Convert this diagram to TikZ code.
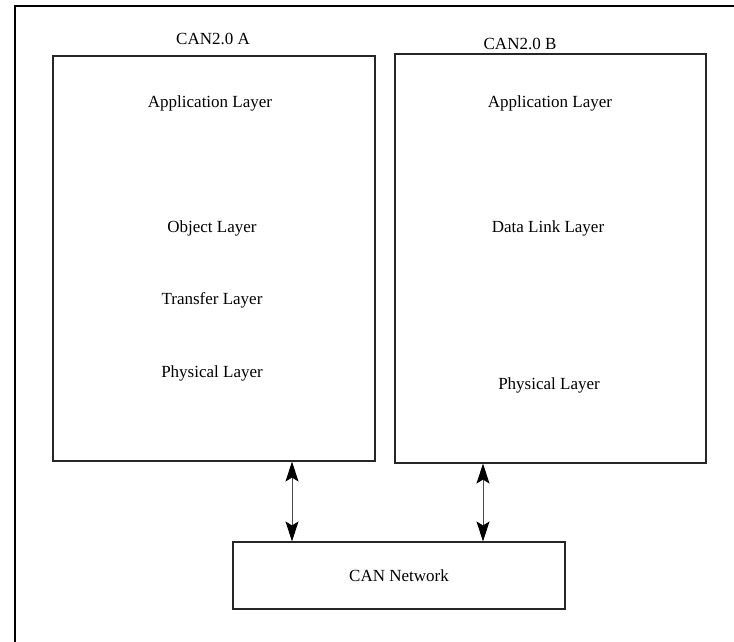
\documentclass[tikz,border=0pt]{standalone}
\usepackage{fontspec}
\setmainfont{Liberation Serif}
\usetikzlibrary{arrows.meta}

\begin{document}
\begin{tikzpicture}[
        x=1pt, y=-1pt,
        font=\fontsize{17}{20}\selectfont,
        stack/.style={draw=black!85, line width=1.1pt, inner sep=0pt},
        link/.style={
                {Stealth[length=20pt, width=13pt, inset=4pt, color=black]}-{Stealth[length=20pt, width=13pt, inset=4pt, color=black]},
                draw=black!70, line width=1pt
            }
    ]
    \useasboundingbox (0,0) rectangle (734,642);

    % Frame
    \draw[line width=1.2pt] (15,642) -- (15,6) -- (734,6);

    % Stack A
    \node[stack, minimum width=322pt, minimum height=405pt] (canA) at (214,258.5) {};
    \node (titleA) at (213,39) {CAN2.0 A};
    \node (appA) at (210,103) {Application Layer};
    \node (objA) at (212,228) {Object Layer};
    \node (trfA) at (212,300) {Transfer Layer};
    \node (phyA) at (212,373) {Physical Layer};

    % Stack B
    \node[stack, minimum width=311pt, minimum height=409pt] (canB) at (550.5,258.5) {};
    \node (titleB) at (520,44) {CAN2.0 B};
    \node (appB) at (550,103) {Application Layer};
    \node (dllB) at (548,228) {Data Link Layer};
    \node (phyB) at (549,385) {Physical Layer};

    % Bus
    \node[stack, minimum width=332pt, minimum height=67pt] (net) at (399,575.5) {CAN Network};

    \coordinate (linkA) at (292,0);
    \coordinate (linkB) at (483,0);
    \draw[link] (canA.south -| linkA) -- (net.north -| linkA);
    \draw[link] (canB.south -| linkB) -- (net.north -| linkB);
\end{tikzpicture}
\end{document}
